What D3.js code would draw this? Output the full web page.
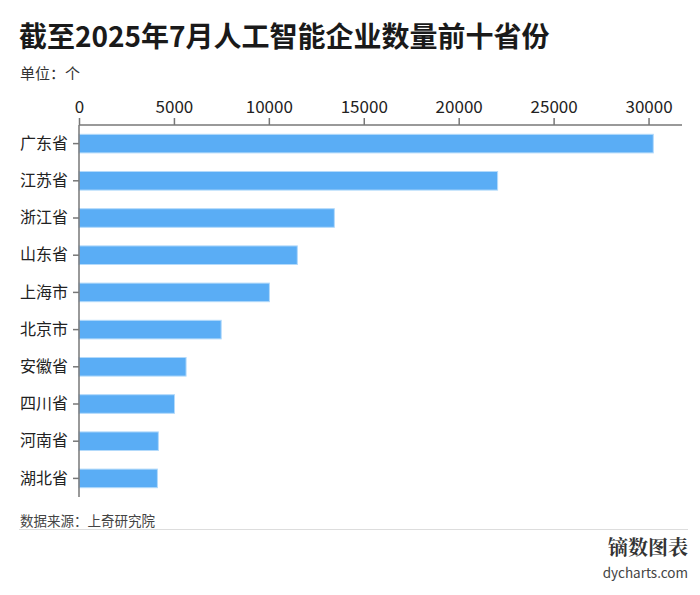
<!DOCTYPE html>
<html>
<head>
<meta charset="utf-8">
<script src="https://cdn.jsdelivr.net/npm/d3@7"></script>
<style>
  body { margin: 0; background: #fff; }
  text { font-family: "Noto Sans CJK SC", "Noto Sans", sans-serif; }
</style>
</head>
<body>
<div id="chart"></div>
<script>
// data
const provinces = ["广东省", "江苏省", "浙江省", "山东省", "上海市", "北京市", "安徽省", "四川省", "河南省", "湖北省"];
const counts = [30250, 22050, 13450, 11500, 10030, 7490, 5640, 5030, 4180, 4130];
const xTicks = [0, 5000, 10000, 15000, 20000, 25000, 30000];

const width = 700, height = 595;
const plotLeft = 79, plotRight = 682, plotTop = 125, plotBottom = 497;

const svg = d3.select("#chart").append("svg")
    .attr("width", width)
    .attr("height", height);

// title + unit
svg.append("text")
    .attr("x", 19).attr("y", 47)
    .style("font-size", "28px").style("font-weight", "bold")
    .attr("fill", "#1a1a1a")
    .text("截至2025年7月人工智能企业数量前十省份");

svg.append("text")
    .attr("x", 20).attr("y", 79)
    .style("font-size", "15px")
    .attr("fill", "#333")
    .text("单位：个");

// scales
const x = d3.scaleLinear()
    .domain([0, d3.max(counts) * 1.05])
    .range([plotLeft, plotRight]);

const y = d3.scaleBand()
    .domain(provinces)
    .range([plotTop, plotBottom])
    .paddingInner(0.5)
    .paddingOuter(0.25);

// bars
svg.append("g").selectAll("rect")
    .data(provinces)
    .join("rect")
    .attr("x", x(0))
    .attr("y", d => y(d))
    .attr("width", (d, i) => x(counts[i]) - x(0))
    .attr("height", y.bandwidth())
    .attr("fill", "#5aadf5")
    .attr("stroke", "#b3dafb")
    .attr("stroke-width", 1);

// top axis
const xAxis = svg.append("g")
    .attr("transform", `translate(0,${plotTop})`)
    .call(d3.axisTop(x).tickValues(xTicks).tickFormat(d3.format("d")).tickSize(7).tickPadding(5));
xAxis.select(".domain").attr("d", `M${plotLeft},0H${plotRight}`);
xAxis.selectAll("line, path").attr("stroke", "#777").attr("stroke-width", 1.5);
xAxis.selectAll("text")
    .style("font-size", "17px")
    .attr("fill", "#222");

// left axis
const yAxis = svg.append("g")
    .attr("transform", `translate(${plotLeft},0)`)
    .call(d3.axisLeft(y).tickSize(6).tickPadding(5));
yAxis.select(".domain").attr("d", `M0,${plotTop}V${plotBottom}`);
yAxis.selectAll("line, path").attr("stroke", "#777").attr("stroke-width", 1.5);
yAxis.selectAll("text")
    .style("font-size", "16px")
    .attr("fill", "#222");

// source + divider
svg.append("text")
    .attr("x", 20).attr("y", 526)
    .style("font-size", "13.5px")
    .attr("fill", "#444")
    .text("数据来源：上奇研究院");

svg.append("line")
    .attr("x1", 19).attr("x2", 688)
    .attr("y1", 529.5).attr("y2", 529.5)
    .attr("stroke", "#ddd")
    .attr("stroke-width", 1.2);

// watermark
svg.append("text")
    .attr("x", 688).attr("y", 555)
    .attr("text-anchor", "end")
    .style("font-size", "20px").style("font-weight", "bold")
    .style("font-family", "'Noto Serif CJK SC', 'Noto Sans CJK SC', serif")
    .attr("fill", "#333")
    .text("镝数图表");

svg.append("text")
    .attr("x", 688).attr("y", 578)
    .attr("text-anchor", "end")
    .style("font-size", "13.5px")
    .attr("fill", "#444")
    .text("dycharts.com");
</script>
</body>
</html>
